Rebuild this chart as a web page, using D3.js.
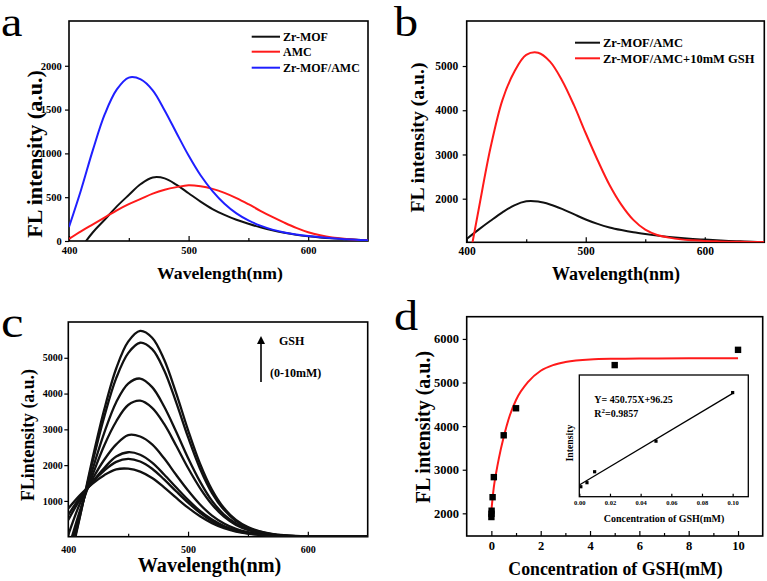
<!DOCTYPE html>
<html>
<head>
<meta charset="utf-8">
<script src="https://cdn.jsdelivr.net/npm/d3@7"></script>
<style>
body { margin: 0; background: #fff; }
text { font-family: "Liberation Serif", "Times New Roman", serif; }
.tick text { font-weight: bold; }
.tick line { stroke: #000; stroke-width: 1.2; }
</style>
</head>
<body>
<div id="fig"></div>
<script>
// wavelength grid (nm) shared by the spectra
var nm = [400,410,420,430,440,450,460,470,480,490,500,510,520,530,540,550,560,570,580,590,600,610,620,630,640,650];

// panel a
var aZrMOF    = [null,-80,100,245,395,525,650,725,715,640,545,450,365,298,242,196,156,121,93,70,53,40,30,22,15,8];
var aAMC      = [25,110,190,270,350,420,480,540,585,615,636,624,595,550,490,420,345,275,210,150,100,65,40,25,15,8];
var aZrMOFAMC = [160,580,1040,1450,1730,1865,1845,1720,1490,1230,975,750,570,425,315,235,175,130,98,74,56,42,30,21,13,8];
var aLegend = ["Zr-MOF", "AMC", "Zr-MOF/AMC"];

// panel b
var bZrMOFAMC = [1090,1300,1500,1690,1850,1940,1935,1870,1770,1650,1530,1430,1350,1290,1240,1200,1165,1135,1110,1090,1075,1060,1045,1035,1025,1020];
var bWithGSH  = [300,1750,3150,4230,4870,5250,5300,5100,4680,4120,3480,2870,2310,1860,1520,1300,1180,1120,1080,1058,1043,1035,1028,1024,1021,1020];
var bLegend = ["Zr-MOF/AMC", "Zr-MOF/AMC+10mM GSH"];

// panel c, one spectrum per GSH level
var c1 = [-900,600,2150,3550,4700,5450,5750,5560,4950,4020,2980,2040,1310,800,470,270,150,80,42,22,11,5,2,0,0,0];
var c2 = [-800,620,2050,3350,4430,5130,5420,5240,4650,3760,2780,1900,1220,750,440,250,140,75,38,18,9,4,2,0,0,0];
var c3 = [-500,700,1850,2900,3760,4280,4420,4180,3640,2940,2200,1540,1000,620,370,210,115,60,30,15,7,3,1,0,0,0];
var c4 = [-350,760,1700,2550,3220,3680,3800,3600,3150,2550,1920,1360,900,560,330,190,105,55,28,14,6,3,1,0,0,0];
var c5 = [50,950,1600,2150,2580,2840,2800,2580,2190,1730,1290,900,590,370,220,128,72,40,21,11,5,2,1,0,0,0];
var c6 = [470,1050,1520,1920,2240,2360,2290,2070,1740,1380,1030,720,480,300,180,104,58,31,16,8,4,2,1,0,0,0];
var c7 = [610,1110,1520,1850,2090,2175,2100,1900,1600,1270,950,670,440,275,165,95,52,28,15,7,3,1,0,0,0,0];
var c8 = [790,1170,1480,1720,1880,1900,1820,1640,1380,1090,810,570,380,240,145,85,48,26,14,7,3,1,0,0,0,0];
var cSeries = [c1, c2, c3, c4, c5, c6, c7, c8];

// panel d
var gshConc      = [0.001,0.005,0.01,0.05,0.1,0.5,1,5,10];
var gshIntensity = [1915,1990,2060,2370,2830,3790,4410,5400,5750];
var fitConc      = [0,0.1,0.2,0.3,0.5,0.75,1,1.5,2,2.5,3,4,5,6,8,10];
var fitIntensity = [2060,2600,2950,3250,3750,4250,4600,5020,5270,5400,5470,5530,5545,5550,5555,5555];
var insetConc      = [0.001,0.005,0.01,0.05,0.1];
var insetIntensity = [1930,2010,2226,2830,3790];
var insetFitConc      = [0,0.1];
var insetFitIntensity = [1963,3774];

var RED = "#ff1a1a", BLUE = "#1f1fff", BLACK = "#111";

var svg = d3.select("#fig").append("svg")
  .attr("width", 767)
  .attr("height", 581);

var clipId = 0;

function panel(o) {
  var g = svg.append("g");
  var x = d3.scaleLinear().domain(o.xd).range([o.x0, o.x1]);
  var y = d3.scaleLinear().domain(o.yd).range([o.y1, o.y0]);

  var id = "clip" + (clipId++);
  g.append("clipPath").attr("id", id)
    .append("rect")
    .attr("x", o.x0).attr("y", o.y0)
    .attr("width", o.x1 - o.x0).attr("height", o.y1 - o.y0);

  // x axis, ticks point inward
  var xa = g.append("g")
    .attr("transform", `translate(0,${o.y1})`)
    .call(d3.axisBottom(x).tickValues(o.xt).tickSize(-(o.xtick || 5)).tickPadding(o.xpad)
      .tickFormat(o.xf || d3.format("d")));
  xa.selectAll("text").style("font-size", o.tfs + "px");
  if (o.xm) {
    g.append("g")
      .attr("transform", `translate(0,${o.y1})`)
      .call(d3.axisBottom(x).tickValues(o.xm).tickSize(-3).tickFormat(""));
  }

  // y axis, ticks point outward
  if (o.yt) {
    var ya = g.append("g")
      .attr("transform", `translate(${o.x0},0)`)
      .call(d3.axisLeft(y).tickValues(o.yt).tickSize(4).tickPadding(o.ypad).tickFormat(d3.format("d")));
    ya.selectAll("text").style("font-size", o.tfs + "px");
  }
  g.selectAll(".domain").remove();

  g.append("rect")
    .attr("x", o.x0).attr("y", o.y0)
    .attr("width", o.x1 - o.x0).attr("height", o.y1 - o.y0)
    .attr("fill", "none").attr("stroke", "#000").attr("stroke-width", o.frame || 1.6);

  var lines = g.append("g").attr("clip-path", `url(#${id})`);
  return { g: g, x: x, y: y, lines: lines };
}

function spectrum(p, values, color, width) {
  var line = d3.line()
    .defined(d => d[1] != null)
    .x(d => p.x(d[0]))
    .y(d => p.y(d[1]))
    .curve(d3.curveCatmullRom.alpha(0.5));
  p.lines.append("path")
    .datum(d3.zip(nm, values))
    .attr("d", line)
    .attr("fill", "none")
    .attr("stroke", color)
    .attr("stroke-width", width || 2);
}

function title(txt, x, y, size, rotate) {
  var t = svg.append("text")
    .attr("text-anchor", "middle")
    .attr("font-weight", "bold")
    .attr("font-size", size)
    .text(txt);
  if (rotate) {
    t.attr("transform", `translate(${x},${y})rotate(-90)`).attr("dy", "0.35em");
  } else {
    t.attr("x", x).attr("y", y);
  }
  return t;
}

function letter(txt, x, y, size) {
  svg.append("text")
    .attr("transform", `translate(${x},${y})scale(1.15,1)`)
    .attr("font-size", size).text(txt);
}

// ---------- a ----------
var pa = panel({ x0: 69, x1: 368, y0: 21, y1: 241, xd: [400, 650], yd: [0, 2511],
  xt: [400, 500, 600], xm: [450, 550], yt: [0, 500, 1000, 1500, 2000], tfs: 10.5, xpad: 5.5, ypad: 3.3 });
spectrum(pa, aZrMOF, BLACK);
spectrum(pa, aAMC, RED);
spectrum(pa, aZrMOFAMC, BLUE);
var aColors = [BLACK, RED, BLUE];
var aLegY = [36.7, 51.7, 67.7];
aLegend.forEach(function(name, i) {
  svg.append("line").attr("x1", 251.7).attr("x2", 280).attr("y1", aLegY[i]).attr("y2", aLegY[i])
    .attr("stroke", aColors[i]).attr("stroke-width", 2);
  svg.append("text").attr("x", 283).attr("y", aLegY[i]).attr("dy", "0.35em")
    .attr("font-size", 12).attr("font-weight", "bold").text(name);
});
title("FL intensity (a.u.)", 34, 154, 22, true);
title("Wavelength(nm)", 220, 279, 17.7);
letter("a", 1, 36, 42);

// ---------- b ----------
var pb = panel({ x0: 466.7, x1: 764.3, y0: 21, y1: 242.3, xd: [400, 650], yd: [1014, 6018],
  xt: [400, 500, 600], xm: [450, 550], yt: [2000, 3000, 4000, 5000], tfs: 11.5, xpad: 4.5, ypad: 4.4 });
spectrum(pb, bZrMOFAMC, BLACK);
spectrum(pb, bWithGSH, RED);
var bColors = [BLACK, RED];
var bLegY = [42.7, 58.3];
bLegend.forEach(function(name, i) {
  svg.append("line").attr("x1", 575).attr("x2", 600).attr("y1", bLegY[i]).attr("y2", bLegY[i])
    .attr("stroke", bColors[i]).attr("stroke-width", 2);
  svg.append("text").attr("x", 603).attr("y", bLegY[i]).attr("dy", "0.35em")
    .attr("font-size", 12.5).attr("font-weight", "bold").text(name);
});
title("FL intensity (a.u.)", 417, 137.5, 19.7, true);
title("Wavelength(nm)", 616, 280, 18);
letter("b", 394, 36, 42);

// ---------- c ----------
var pc = panel({ x0: 68.3, x1: 367.7, y0: 322, y1: 536.7, xd: [400, 650], yd: [0, 6000],
  xt: [400, 500, 600], xm: [450, 550], yt: [1000, 2000, 3000, 4000, 5000], tfs: 10, xpad: 9, ypad: 1.5 });
cSeries.forEach(function(s) { spectrum(pc, s, BLACK, 2.3); });
svg.append("defs").append("marker")
  .attr("id", "arrow").attr("viewBox", "0 0 10 10").attr("refX", 5).attr("refY", 5)
  .attr("markerWidth", 5).attr("markerHeight", 5).attr("orient", "auto")
  .append("path").attr("d", "M0,0L10,5L0,10z").attr("fill", "#000");
svg.append("line").attr("x1", 261).attr("x2", 261).attr("y1", 382).attr("y2", 340)
  .attr("stroke", "#000").attr("stroke-width", 1.6).attr("marker-end", "url(#arrow)");
svg.append("text").attr("x", 279).attr("y", 345).attr("font-size", 12).attr("font-weight", "bold").text("GSH");
svg.append("text").attr("x", 270).attr("y", 377).attr("font-size", 12).attr("font-weight", "bold").text("(0-10mM)");
title("FLintensity (a.u.)", 28, 435, 17.8, true);
title("Wavelength(nm)", 209.5, 572, 20.2);
letter("c", 1, 337, 44);

// ---------- d ----------
var pd = panel({ x0: 466.7, x1: 762.7, y0: 316.7, y1: 536, xd: [-1, 11], yd: [1480, 6510],
  xt: [0, 2, 4, 6, 8, 10], xm: [1, 3, 5, 7, 9], yt: [2000, 3000, 4000, 5000, 6000], tfs: 12.5, xpad: 5, ypad: 3.7 });
var fitLine = d3.line()
  .x(d => pd.x(d[0]))
  .y(d => pd.y(d[1]))
  .curve(d3.curveMonotoneX);
pd.lines.append("path")
  .datum(d3.zip(fitConc, fitIntensity))
  .attr("d", fitLine)
  .attr("fill", "none").attr("stroke", RED).attr("stroke-width", 2);
pd.g.selectAll(".pt")
  .data(d3.zip(gshConc, gshIntensity))
  .enter()
  .append("rect")
  .attr("x", d => pd.x(d[0]) - 3.2)
  .attr("y", d => pd.y(d[1]) - 3.2)
  .attr("width", 6.4).attr("height", 6.4)
  .attr("fill", "#000");

// inset
var pi = panel({ x0: 579.3, x1: 748.3, y0: 375, y1: 496.7, xd: [0, 0.1102], yd: [1733, 4137],
  xt: [0, 0.02, 0.04, 0.06, 0.08, 0.1], xf: d3.format(".2f"), tfs: 6.5, xpad: 3.5, xtick: 3, frame: 1.3 });
var insetLine = d3.line().x(d => pi.x(d[0])).y(d => pi.y(d[1]));
pi.lines.append("path")
  .datum(d3.zip(insetFitConc, insetFitIntensity))
  .attr("d", insetLine)
  .attr("stroke", "#000").attr("stroke-width", 1.3).attr("fill", "none");
pi.g.selectAll(".ipt")
  .data(d3.zip(insetConc, insetIntensity))
  .enter()
  .append("rect")
  .attr("x", d => pi.x(d[0]) - 1.6)
  .attr("y", d => pi.y(d[1]) - 1.6)
  .attr("width", 3.2).attr("height", 3.2)
  .attr("fill", "#000");
svg.append("text").attr("x", 594.3).attr("y", 403.3).attr("font-size", 10).attr("font-weight", "bold")
  .text("Y= 450.75X+96.25");
var r2 = svg.append("text").attr("x", 594.3).attr("y", 417.3).attr("font-size", 10).attr("font-weight", "bold");
r2.append("tspan").text("R");
r2.append("tspan").attr("dy", -4).attr("font-size", 7).text("2");
r2.append("tspan").attr("dy", 4).text("=0.9857");
title("Intensity", 570, 443, 9.8, true);
title("Concentration of GSH(mM)", 664, 521.5, 10);

title("FL intensity (a.u.)", 423, 427, 20, true);
title("Concentration of GSH(mM)", 615.5, 575, 17.8);
letter("d", 394, 330, 42);
</script>
</body>
</html>
